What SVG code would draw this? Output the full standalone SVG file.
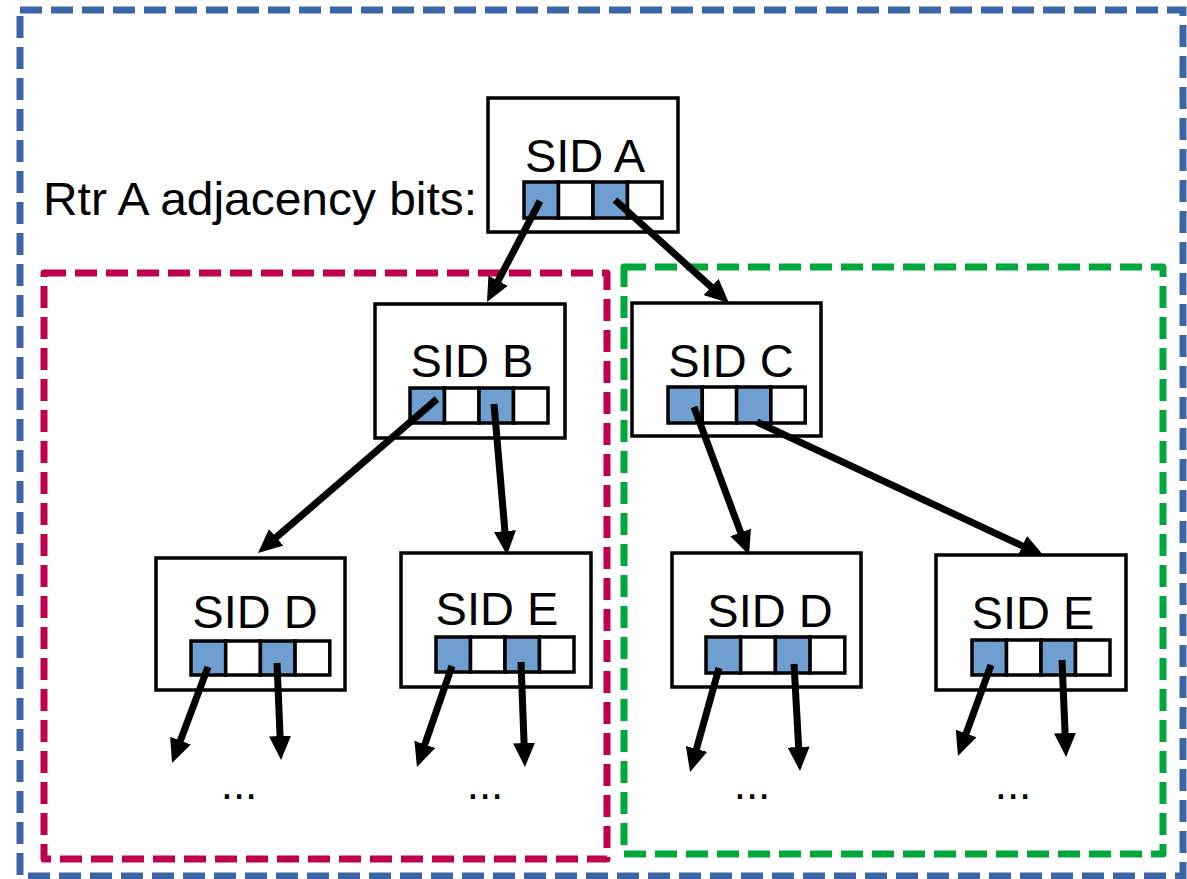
<svg xmlns="http://www.w3.org/2000/svg" width="1187" height="879" viewBox="0 0 1187 879">
<style>
text{font-family:"Liberation Sans",Arial,sans-serif;fill:#000}
.lbl{font-size:47px;text-anchor:middle}
.box{fill:#fff;stroke:#000;stroke-width:3.5}
.on{fill:#6f9fd1;stroke:#000;stroke-width:3.5}
.off{fill:#fff;stroke:#000;stroke-width:3.5}
.grp{fill:none;stroke-width:7;stroke-dasharray:22 9}
.arr{stroke:#000;stroke-width:7;fill:none;marker-end:url(#ah)}
.dots{font-size:44px;text-anchor:middle}
</style>
<defs>
<marker id="ah" markerUnits="userSpaceOnUse" markerWidth="24" markerHeight="22" refX="1" refY="11" orient="auto" viewBox="0 0 24 22"><path d="M0,0L24,11L0,22z" fill="#000"/></marker>
</defs>
<rect width="1187" height="879" fill="#fff"/>
<g id="groups">
<rect class="grp" x="20" y="10" width="1163" height="866" stroke="#3a66a7"/>
<rect class="grp" x="44" y="273" width="563" height="586" stroke="#c0004f" stroke-linejoin="round"/>
<rect class="grp" x="624" y="267" width="539" height="587" stroke="#00a83c" stroke-linejoin="round"/>
</g>
<text x="43" y="215" font-size="46" textLength="434" lengthAdjust="spacingAndGlyphs">Rtr A adjacency bits:</text>
<g id="nodeA">
<rect class="box" x="488" y="98" width="190" height="134"/>
<text class="lbl" x="585" y="172">SID A</text>
<rect class="on" x="524" y="182" width="34.5" height="36"/><rect class="off" x="558.5" y="182" width="34.5" height="36"/><rect class="on" x="593" y="182" width="34.5" height="36"/><rect class="off" x="627.5" y="182" width="34.5" height="36"/>
</g>
<g id="nodeB">
<rect class="box" x="375" y="304" width="190" height="134"/>
<text class="lbl" x="472" y="377">SID B</text>
<rect class="on" x="410" y="388" width="34.5" height="35"/><rect class="off" x="444.5" y="388" width="34.5" height="35"/><rect class="on" x="479" y="388" width="34.5" height="35"/><rect class="off" x="513.5" y="388" width="34.5" height="35"/>
</g>
<g id="nodeC">
<rect class="box" x="632" y="303" width="189" height="133"/>
<text class="lbl" x="731" y="377">SID C</text>
<rect class="on" x="668" y="387" width="34.3" height="36"/><rect class="off" x="702.3" y="387" width="34.3" height="36"/><rect class="on" x="736.6" y="387" width="34.3" height="36"/><rect class="off" x="770.9" y="387" width="34.3" height="36"/>
</g>
<g id="nodeD1">
<rect class="box" x="156" y="558" width="189" height="132"/>
<text class="lbl" x="255" y="628">SID D</text>
<rect class="on" x="191" y="641" width="34.7" height="34"/><rect class="off" x="225.7" y="641" width="34.7" height="34"/><rect class="on" x="260.4" y="641" width="34.7" height="34"/><rect class="off" x="295.1" y="641" width="34.7" height="34"/>
</g>
<g id="nodeE1">
<rect class="box" x="401" y="553" width="190" height="134"/>
<text class="lbl" x="497" y="625">SID E</text>
<rect class="on" x="436" y="637" width="34.5" height="35"/><rect class="off" x="470.5" y="637" width="34.5" height="35"/><rect class="on" x="505" y="637" width="34.5" height="35"/><rect class="off" x="539.5" y="637" width="34.5" height="35"/>
</g>
<g id="nodeD2">
<rect class="box" x="672" y="553" width="189" height="134"/>
<text class="lbl" x="770" y="627">SID D</text>
<rect class="on" x="706" y="637" width="34.7" height="36"/><rect class="off" x="740.7" y="637" width="34.7" height="36"/><rect class="on" x="775.4" y="637" width="34.7" height="36"/><rect class="off" x="810.1" y="637" width="34.7" height="36"/>
</g>
<g id="nodeE2">
<rect class="box" x="936" y="555" width="190" height="135"/>
<text class="lbl" x="1033" y="629">SID E</text>
<rect class="on" x="972" y="640" width="34.5" height="35"/><rect class="off" x="1006.5" y="640" width="34.5" height="35"/><rect class="on" x="1041" y="640" width="34.5" height="35"/><rect class="off" x="1075.5" y="640" width="34.5" height="35"/>
</g>
<g id="connectors">
<line class="arr" x1="540" y1="201" x2="497.7" y2="281.6"/>
<line class="arr" x1="615" y1="200" x2="711.9" y2="287.6"/>
<line class="arr" x1="437" y1="399" x2="275.4" y2="538"/>
<line class="arr" x1="494" y1="404" x2="505" y2="532.1"/>
<line class="arr" x1="694" y1="407" x2="741" y2="533.4"/>
<line class="arr" x1="757" y1="422" x2="1023.2" y2="546.3"/>
<line class="arr" x1="208" y1="667" x2="180.1" y2="741.5"/>
<line class="arr" x1="277" y1="663" x2="280.1" y2="737"/>
<line class="arr" x1="452" y1="666" x2="424.5" y2="745.3"/>
<line class="arr" x1="521" y1="662" x2="524.1" y2="744"/>
<line class="arr" x1="719" y1="668" x2="696.2" y2="749.9"/>
<line class="arr" x1="794" y1="664" x2="798.7" y2="748"/>
<line class="arr" x1="991" y1="665" x2="965.8" y2="734.4"/>
<line class="arr" x1="1062" y1="660" x2="1065.1" y2="734"/>
</g>
<g id="ellipses">
<text class="dots" x="239" y="799">...</text>
<text class="dots" x="485" y="799">...</text>
<text class="dots" x="752" y="799">...</text>
<text class="dots" x="1013" y="799">...</text>
</g>
</svg>
